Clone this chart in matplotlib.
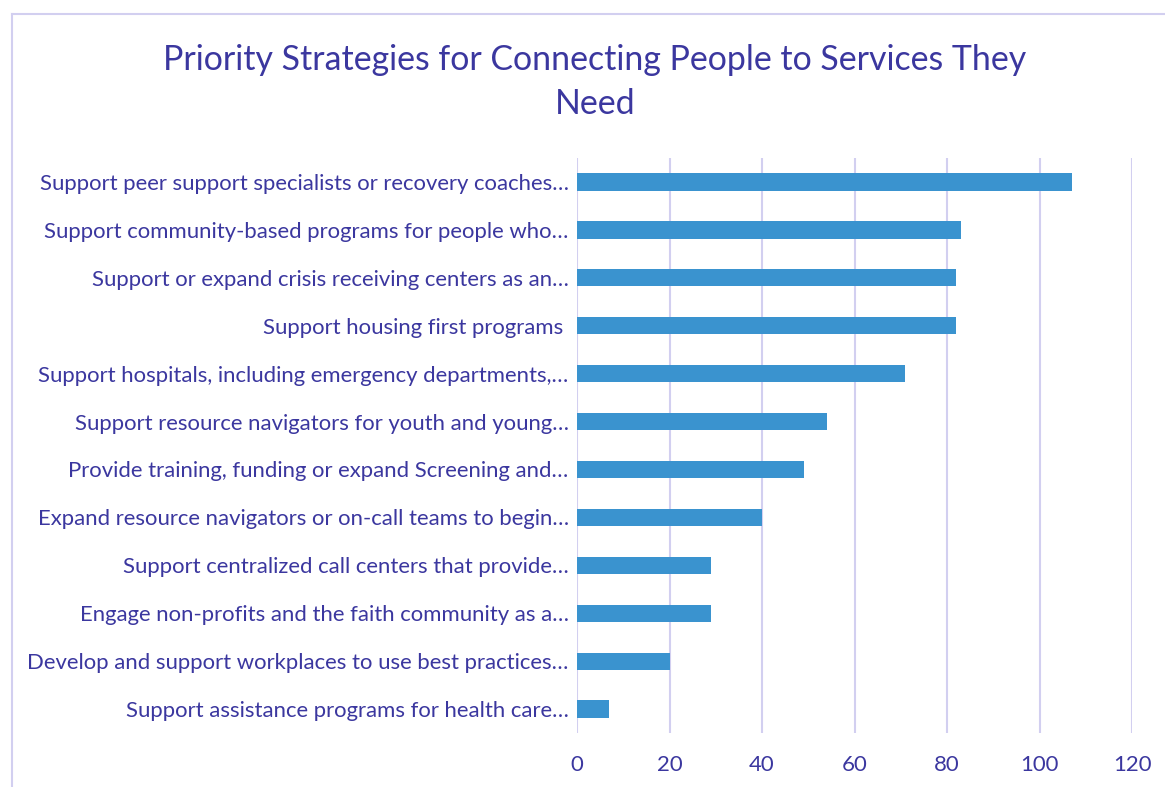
import matplotlib.pyplot as plt
from matplotlib.lines import Line2D

strategies = [
    'Support peer support specialists or recovery coaches…',
    'Support community-based programs for people who…',
    'Support or expand crisis receiving centers as an…',
    'Support housing first programs ',
    'Support hospitals, including emergency departments,…',
    'Support resource navigators for youth and young…',
    'Provide training, funding or expand Screening and…',
    'Expand resource navigators or on-call teams to begin…',
    'Support centralized call centers that provide…',
    'Engage non-profits and the faith community as a…',
    'Develop and support workplaces to use best practices…',
    'Support assistance programs for health care…',
]
votes = [107, 83, 82, 82, 71, 54, 49, 40, 29, 29, 20, 7]
xticks = [0, 20, 40, 60, 80, 100, 120]

text_col = '#3b379f'
bar_col = '#3a93cf'
grid_col = '#d2cff0'

plt.rcParams['font.family'] = ['Lato', 'DejaVu Sans']

W, H = 1165, 787
fig = plt.figure(figsize=(W / 100, H / 100), dpi=100)
ax = fig.add_axes([577 / W, 1 - 733 / H, (1132 - 577) / W, (733 - 158) / H])

y = list(range(len(strategies)))
ax.barh(y, votes, height=0.36, color=bar_col, zorder=3)
ax.set_ylim(len(strategies) - 0.5, -0.5)
ax.set_xlim(0, 120)
ax.set_xticks(xticks)
ax.set_yticks(y)
ax.set_yticklabels(strategies)
ax.tick_params(axis='y', length=0, pad=6, labelsize=15.9, labelcolor=text_col)
ax.tick_params(axis='x', length=0, pad=16, labelsize=15.9, labelcolor=text_col)
ax.grid(axis='x', color=grid_col, linewidth=1.5, zorder=0)
for s in ax.spines.values():
    s.set_visible(False)

fig.text(595 / W, 1 - 82 / H,
         'Priority Strategies for Connecting People to Services They\nNeed',
         ha='center', va='center', fontsize=24.4, color=text_col, linespacing=1.45)

# chart frame, clipped by the image edge on the right and bottom
fig.add_artist(Line2D([12 / W, 12 / W], [0, 1 - 14 / H], color=grid_col, lw=1.5,
                      transform=fig.transFigure))
fig.add_artist(Line2D([12 / W, 1], [1 - 14 / H, 1 - 14 / H], color=grid_col, lw=1.5,
                      transform=fig.transFigure))

fig.savefig('out.png', dpi=100)
